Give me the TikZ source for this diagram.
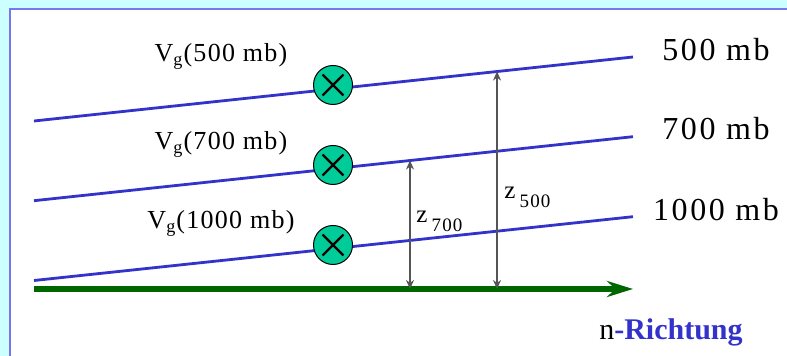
\documentclass[tikz,border=0pt]{standalone}
\usepackage{fontspec}
\setmainfont{Liberation Serif}
\usepackage{tikz}
\usetikzlibrary{arrows.meta,calc}
\definecolor{bgc}{HTML}{CCFFFF}
\definecolor{frm}{HTML}{7777EE}
\definecolor{iso}{HTML}{3333CC}
\definecolor{axg}{HTML}{006600}
\definecolor{wind}{HTML}{00CC99}
\definecolor{hgt}{HTML}{555555}
\newcommand{\lowsub}[1]{\raisebox{-0.35em}{\fontsize{9.5}{11}\selectfont\addfontfeature{LetterSpace=6}#1}}
\tikzset{
  isobar/.style={draw=iso,line width=1.4pt},
  naxis/.style={-{Stealth[length=13pt,width=8pt]},draw=axg,line width=2.6pt},
  height/.style={{Stealth[length=4.5pt,width=4pt]}-{Stealth[length=4.5pt,width=4pt]},draw=hgt,line width=0.9pt},
  wnd/.style={circle,draw=black,line width=0.5pt,fill=wind,minimum size=19.5pt,inner sep=0pt,
    path picture={\draw[line width=1.1pt] (path picture bounding box.center) ++(-5.2pt,-5.2pt) -- ++(10.4pt,10.4pt)
      (path picture bounding box.center) ++(-5.2pt,5.2pt) -- ++(10.4pt,-10.4pt);}},
  vlab/.style={font=\fontsize{13}{15}\selectfont\addfontfeature{LetterSpace=5},anchor=base,inner sep=0pt},
  plab/.style={font=\fontsize{16}{18}\selectfont\addfontfeature{LetterSpace=8},anchor=base,inner sep=0pt},
  zlab/.style={font=\fontsize{12.5}{14}\selectfont,anchor=base west,inner sep=0pt},
}

\begin{document}
\begin{tikzpicture}[x=0.5pt,y=-0.5pt]
\useasboundingbox (0,0) rectangle (787,356);
\clip (0,0) rectangle (787,356);
\fill[bgc] (0,0) rectangle (787,356);
\draw[frm,fill=white,line width=1.1pt] (10,9) rectangle (800,370);

% isobaric surfaces
\coordinate (p500w) at (34,121);    \coordinate (p500e) at (633,57);
\coordinate (p700w) at (34,200.7);  \coordinate (p700e) at (633,136.7);
\coordinate (p1000w) at (34,280.5); \coordinate (p1000e) at (633,216.7);
\draw[isobar] (p500w) -- (p500e);
\draw[isobar] (p700w) -- (p700e);
\draw[isobar] (p1000w) -- (p1000e);

% n axis
\coordinate (axw) at (34,289);
\coordinate (axe) at (633,289);
\draw[naxis] (axw) -- (axe);

% heights
\coordinate (z700t) at ($(p700w)!0.6277!(p700e)$);
\coordinate (z700b) at (z700t |- axw);
\coordinate (z500t) at ($(p500w)!0.773!(p500e)$);
\coordinate (z500b) at (z500t |- axw);
\draw[height] (z700b) -- (z700t);
\draw[height] (z500b) -- (z500t);

% geostrophic wind into the page
\node[wnd] (w500) at (333,85) {};
\node[wnd] (w700) at (333,165) {};
\node[wnd] (w1000) at (333,245) {};

\node[vlab] (v500) at (221,61.7) {V\textsubscript{g}(500 mb)};
\node[vlab] (v700) at (221,150) {V\textsubscript{g}(700 mb)};
\node[vlab] (v1000) at (221,229) {V\textsubscript{g}(1000 mb)};

\node[plab] (l500) at (716,60.7) {500 mb};
\node[plab] (l700) at (716,140) {700 mb};
\node[plab] (l1000) at (716,220.7) {1000 mb};

\node[zlab] (t700) at (416,223) {z\,\lowsub{700}};
\node[zlab] (t500) at (504,199) {z\,\lowsub{500}};

\node[font=\fontsize{15}{17}\selectfont,anchor=base,inner sep=0pt] (ndir) at (671,340)
  {n\textcolor{iso}{\bfseries -Richtung}};
\end{tikzpicture}
\end{document}
